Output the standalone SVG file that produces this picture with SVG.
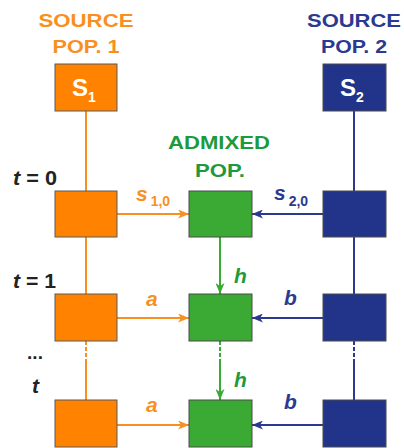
<svg xmlns="http://www.w3.org/2000/svg" width="404" height="448" viewBox="0 0 404 448">
<style>
.lbl{font-family:"Liberation Sans",Arial,sans-serif;font-weight:bold;font-size:19px;text-anchor:middle}
.it{font-family:"Liberation Sans",Arial,sans-serif;font-weight:bold;font-style:italic;font-size:21px}
.sub{font-family:"Liberation Sans",Arial,sans-serif;font-weight:bold;font-size:14px;font-style:normal}
.or{fill:#f7901e}.gr{fill:#1e9a3c}.nv{fill:#2b3990}.bk{fill:#222}
.bo{fill:#ff8300;stroke:#5a5a5a;stroke-width:1}
.bg{fill:#3aaa35;stroke:#4a4a4a;stroke-width:1}
.bn{fill:#22338a;stroke:#4a4a4a;stroke-width:1}
.lo{stroke:#f7901e;stroke-width:2;fill:none}
.lg{stroke:#3aaa35;stroke-width:2;fill:none}
.ln{stroke:#2b3990;stroke-width:2;fill:none}
.dash{stroke-dasharray:4 2}
.sx{font-family:"Liberation Sans",Arial,sans-serif;font-weight:bold;fill:#fff}
</style>
<defs>
<marker id="ao" viewBox="0 0 11 9" refX="11" refY="4.5" markerWidth="11" markerHeight="9" markerUnits="userSpaceOnUse" orient="auto"><path d="M0,0 L11,4.5 L0,9 L3,4.5 z" fill="#f7901e"/></marker>
<marker id="ag" viewBox="0 0 11 9" refX="11" refY="4.5" markerWidth="11" markerHeight="9" markerUnits="userSpaceOnUse" orient="auto"><path d="M0,0 L11,4.5 L0,9 L3,4.5 z" fill="#3aaa35"/></marker>
<marker id="an" viewBox="0 0 11 9" refX="11" refY="4.5" markerWidth="11" markerHeight="9" markerUnits="userSpaceOnUse" orient="auto"><path d="M0,0 L11,4.5 L0,9 L3,4.5 z" fill="#2b3990"/></marker>
</defs>

<g id="connectors">
<line class="lo" x1="86" y1="111" x2="86" y2="191"/>
<line class="lo" x1="86" y1="237" x2="86" y2="294"/>
<line class="lo dash" x1="86" y1="341" x2="86" y2="361"/>
<line class="lo" x1="86" y1="361" x2="86" y2="400"/>
<line class="ln" x1="354" y1="111" x2="354" y2="191"/>
<line class="ln" x1="354" y1="237" x2="354" y2="294"/>
<line class="ln dash" x1="354" y1="341" x2="354" y2="361"/>
<line class="ln" x1="354" y1="361" x2="354" y2="400"/>
<line class="lg" x1="220" y1="237" x2="220" y2="294" marker-end="url(#ag)"/>
<line class="lg dash" x1="220" y1="341" x2="220" y2="361"/>
<line class="lg" x1="220" y1="361" x2="220" y2="400" marker-end="url(#ag)"/>
<line class="lo" x1="117" y1="214" x2="189" y2="214" marker-end="url(#ao)"/>
<line class="lo" x1="117" y1="318" x2="189" y2="318" marker-end="url(#ao)"/>
<line class="lo" x1="117" y1="425" x2="189" y2="425" marker-end="url(#ao)"/>
<line class="ln" x1="323" y1="214" x2="252" y2="214" marker-end="url(#an)"/>
<line class="ln" x1="323" y1="318" x2="252" y2="318" marker-end="url(#an)"/>
<line class="ln" x1="323" y1="425" x2="252" y2="425" marker-end="url(#an)"/>
</g>

<g id="labels">
<text class="lbl or" x="86" y="27" textLength="95" lengthAdjust="spacingAndGlyphs">SOURCE</text>
<text class="lbl or" x="86" y="53" textLength="67" lengthAdjust="spacingAndGlyphs">POP. 1</text>
<text class="lbl nv" x="354" y="27" textLength="94" lengthAdjust="spacingAndGlyphs">SOURCE</text>
<text class="lbl nv" x="354" y="53" textLength="66" lengthAdjust="spacingAndGlyphs">POP. 2</text>
<text class="lbl gr" x="219" y="149" textLength="102" lengthAdjust="spacingAndGlyphs">ADMIXED</text>
<text class="lbl gr" x="220" y="177" textLength="50" lengthAdjust="spacingAndGlyphs">POP.</text>
<text class="it bk" x="13" y="185" textLength="44" lengthAdjust="spacingAndGlyphs">t<tspan style="font-style:normal"> = 0</tspan></text>
<text class="it bk" x="13" y="288" textLength="43" lengthAdjust="spacingAndGlyphs">t<tspan style="font-style:normal"> = 1</tspan></text>
<text class="lbl bk" x="35" y="359">...</text>
<text class="it bk" x="32" y="393">t</text>
<text class="it or" x="136" y="201">s<tspan class="sub" dx="3" dy="5">1,0</tspan></text>
<text class="it nv" x="274" y="200">s<tspan class="sub" dx="3" dy="6">2,0</tspan></text>
<text class="it or" x="146" y="306">a</text>
<text class="it or" x="146" y="412">a</text>
<text class="it nv" x="284" y="305">b</text>
<text class="it nv" x="284" y="409">b</text>
<text class="it gr" x="234" y="283">h</text>
<text class="it gr" x="234" y="387">h</text>
</g>

<g id="S1"><rect class="bo" x="55" y="64" width="62" height="47"/><text class="sx" x="72" y="96" font-size="24">S<tspan font-size="14" dy="6">1</tspan></text></g>
<g id="S2"><rect class="bn" x="323" y="64" width="63" height="47"/><text class="sx" x="340" y="96" font-size="24">S<tspan font-size="14" dy="6">2</tspan></text></g>
<g id="src1-t0"><rect class="bo" x="55" y="191" width="62" height="46"/></g>
<g id="src1-t1"><rect class="bo" x="55" y="294" width="62" height="47"/></g>
<g id="src1-t"><rect class="bo" x="55" y="400" width="62" height="47"/></g>
<g id="adm-t0"><rect class="bg" x="189" y="191" width="63" height="46"/></g>
<g id="adm-t1"><rect class="bg" x="189" y="294" width="63" height="47"/></g>
<g id="adm-t"><rect class="bg" x="189" y="400" width="63" height="47"/></g>
<g id="src2-t0"><rect class="bn" x="323" y="191" width="63" height="46"/></g>
<g id="src2-t1"><rect class="bn" x="323" y="294" width="63" height="47"/></g>
<g id="src2-t"><rect class="bn" x="323" y="400" width="63" height="47"/></g>
</svg>
